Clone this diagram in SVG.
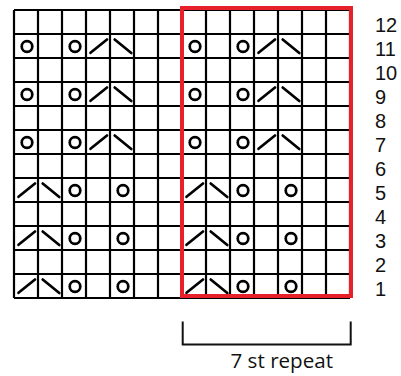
<svg xmlns="http://www.w3.org/2000/svg" xmlns:xlink="http://www.w3.org/1999/xlink" width="401" height="376" viewBox="0 0 401 376">
<style>
.grid{fill:none;stroke:#000;stroke-width:2.2}
.sym{fill:none;stroke:#000;stroke-width:2.7;stroke-linecap:round}
.num{font-family:"Liberation Sans","Open Sans",sans-serif;font-size:20px;fill:#111}
.lbl{font-family:"Open Sans","Noto Sans",sans-serif;font-size:20.6px;fill:#111}
.rep{fill:none;stroke:#e8202a;stroke-width:4}
.brk{fill:none;stroke:#111;stroke-width:2}
</style>
<defs>
<g id="yo"><circle class="sym" cx="13" cy="12.5" r="5.3"/></g>
<g id="k2tog"><line class="sym" x1="4.5" y1="18.8" x2="21" y2="5.5"/></g>
<g id="ssk"><line class="sym" x1="4.7" y1="5.5" x2="21.3" y2="19"/></g>
</defs>
<rect width="401" height="376" fill="#fff"/>
<g id="grid">
<path class="grid" d="M14 10V298M38 10V298M62 10V298M86 10V298M110 10V298M134 10V298M158 10V298M182 10V298M206 10V298M230 10V298M254 10V298M278 10V298M302 10V298M326 10V298M350 10V298M14 10H350M14 34H350M14 58H350M14 82H350M14 106H350M14 130H350M14 154H350M14 178H350M14 202H350M14 226H350M14 250H350M14 274H350M14 298H350"/>
</g>
<g id="row11">
<use href="#yo" x="14" y="34"/><use href="#yo" x="62" y="34"/><use href="#k2tog" x="86" y="34"/><use href="#ssk" x="110" y="34"/>
<use href="#yo" x="182" y="34"/><use href="#yo" x="230" y="34"/><use href="#k2tog" x="254" y="34"/><use href="#ssk" x="278" y="34"/>
</g>
<g id="row9">
<use href="#yo" x="14" y="82"/><use href="#yo" x="62" y="82"/><use href="#k2tog" x="86" y="82"/><use href="#ssk" x="110" y="82"/>
<use href="#yo" x="182" y="82"/><use href="#yo" x="230" y="82"/><use href="#k2tog" x="254" y="82"/><use href="#ssk" x="278" y="82"/>
</g>
<g id="row7">
<use href="#yo" x="14" y="130"/><use href="#yo" x="62" y="130"/><use href="#k2tog" x="86" y="130"/><use href="#ssk" x="110" y="130"/>
<use href="#yo" x="182" y="130"/><use href="#yo" x="230" y="130"/><use href="#k2tog" x="254" y="130"/><use href="#ssk" x="278" y="130"/>
</g>
<g id="row5">
<use href="#k2tog" x="14" y="178"/><use href="#ssk" x="38" y="178"/><use href="#yo" x="62" y="178"/><use href="#yo" x="110" y="178"/>
<use href="#k2tog" x="182" y="178"/><use href="#ssk" x="206" y="178"/><use href="#yo" x="230" y="178"/><use href="#yo" x="278" y="178"/>
</g>
<g id="row3">
<use href="#k2tog" x="14" y="226"/><use href="#ssk" x="38" y="226"/><use href="#yo" x="62" y="226"/><use href="#yo" x="110" y="226"/>
<use href="#k2tog" x="182" y="226"/><use href="#ssk" x="206" y="226"/><use href="#yo" x="230" y="226"/><use href="#yo" x="278" y="226"/>
</g>
<g id="row1">
<use href="#k2tog" x="14" y="274"/><use href="#ssk" x="38" y="274"/><use href="#yo" x="62" y="274"/><use href="#yo" x="110" y="274"/>
<use href="#k2tog" x="182" y="274"/><use href="#ssk" x="206" y="274"/><use href="#yo" x="230" y="274"/><use href="#yo" x="278" y="274"/>
</g>
<g id="repeat-box"><rect class="rep" x="182" y="8" width="169" height="288"/></g>
<g id="row-numbers" class="num">
<text x="375" y="32">12</text>
<text x="375" y="56">11</text>
<text x="375" y="80">10</text>
<text x="375" y="104">9</text>
<text x="375" y="128">8</text>
<text x="375" y="152">7</text>
<text x="375" y="176">6</text>
<text x="375" y="200">5</text>
<text x="375" y="224">4</text>
<text x="375" y="248">3</text>
<text x="375" y="272">2</text>
<text x="375" y="296">1</text>
</g>
<g id="repeat-bracket">
<path class="brk" d="M182.7 321.5V344.5H350.7V321.5"/>
<text class="lbl" x="230.5" y="368">7 st repeat</text>
</g>
</svg>
